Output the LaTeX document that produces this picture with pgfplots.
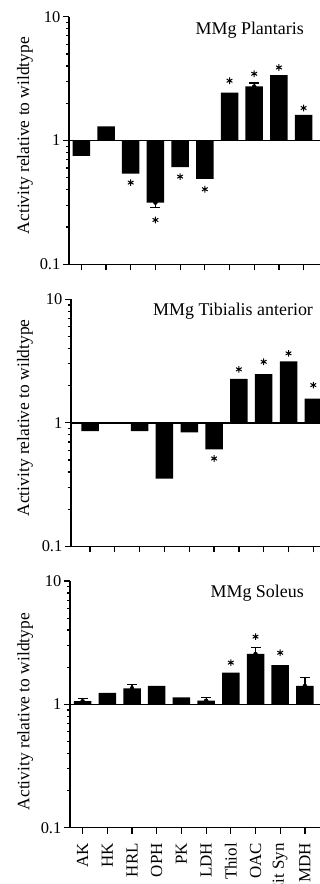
\documentclass[border=0pt]{standalone}
\usepackage{fontspec}
\setmainfont{Liberation Serif}
\usepackage{pgfplots}
\pgfplotsset{compat=1.18}

\begin{document}
\begin{tikzpicture}
\path[use as bounding box] (0,0) rectangle (320bp,884bp);
\clip (0,0) rectangle (320bp,884bp);

% Panel 1: Plantaris
\begin{axis}[at={(69bp,619.7bp)}, anchor=south west, scale only axis,
  width=251.9bp, height=247.6bp, xmin=-0.5, xmax=9.7,
  ymode=log, ymin=0.1, ymax=10, ytick={0.1,1,10}, yticklabels={0.1,1,10},
  xtick={0,1,2,3,4,5,6,7,8,9}, xticklabels={},
  axis x line*=bottom, axis y line*=left,
  tick align=outside, major tick length=6bp,
  tick style={black, line width=1.2bp},
  x axis line style={line width=1.2bp}, y axis line style={line width=2bp},
  /pgf/number format/assume math mode=true,
  yticklabel style={font=\fontsize{16.5}{16.5}\selectfont, inner sep=2.5bp},
  ylabel={Activity relative to wildtype},
  ylabel style={at={(axis description cs:-0.175,0.52)}, anchor=center, font=\fontsize{17.5}{17.5}\selectfont},
  clip=false]
\addplot[ybar, bar width=17.5bp, bar shift=0pt, fill=black, draw=none] coordinates {(0,0.75) (1,1.30) (2,0.54) (3,0.315) (4,0.61) (5,0.49) (6,2.44) (7,2.73) (8,3.38) (9,1.61)};
\addplot[black, only marks, mark=none, forget plot, error bars/y dir=both, error bars/y explicit, error bars/error bar style={black, line width=1.2bp}, error bars/error mark options={black, rotate=90, mark size=5bp, line width=1.2bp}] coordinates {(3,0.315) +- (0,0.026) (7,2.73) +- (0,0.18)};
\addplot[black, only marks, mark=asterisk, mark size=3.3bp, mark options={line width=1bp}, forget plot] coordinates {(2,0.457) (3,0.228) (4,0.511) (5,0.404) (6,3.04) (7,3.46) (8,3.89) (9,1.83)};
\draw[line width=1.6bp] (rel axis cs:0,0.5) -- (rel axis cs:1,0.5);
\end{axis}

% Panel 2: Tibialis anterior
\begin{axis}[at={(71bp,337.7bp)}, anchor=south west, scale only axis,
  width=254.7bp, height=247bp, xmin=-0.77, xmax=9.5,
  ymode=log, ymin=0.1, ymax=10, ytick={0.1,1,10}, yticklabels={0.1,1,10},
  xtick={0,1,2,3,4,5,6,7,8,9}, xticklabels={},
  axis x line*=bottom, axis y line*=left,
  tick align=outside, major tick length=6bp,
  tick style={black, line width=1.2bp},
  x axis line style={line width=1.2bp}, y axis line style={line width=2bp},
  /pgf/number format/assume math mode=true,
  yticklabel style={font=\fontsize{16.5}{16.5}\selectfont, inner sep=2.5bp},
  ylabel={Activity relative to wildtype},
  ylabel style={at={(axis description cs:-0.181,0.52)}, anchor=center, font=\fontsize{17.5}{17.5}\selectfont},
  clip=false]
\addplot[ybar, bar width=17.5bp, bar shift=0pt, fill=black, draw=none] coordinates {(0,0.855) (2,0.855) (3,0.354) (4,0.835) (5,0.608) (6,2.27) (7,2.48) (8,3.14) (9,1.57)};
\addplot[black, only marks, mark=asterisk, mark size=3.3bp, mark options={line width=1bp}, forget plot] coordinates {(5,0.514) (6,2.71) (7,3.12) (8,3.65) (9,2.02)};
\draw[line width=1.6bp] (rel axis cs:0,0.5) -- (rel axis cs:1,0.5);
\end{axis}

% Panel 3: Soleus
\begin{axis}[at={(70bp,56.3bp)}, anchor=south west, scale only axis,
  width=252.2bp, height=246.7bp, xmin=-0.51, xmax=9.7,
  ymode=log, ymin=0.1, ymax=10, ytick={0.1,1,10}, yticklabels={0.1,1,10},
  xtick={0,1,2,3,4,5,6,7,8,9},
  xticklabels={AK,HK,HRL,OPH,PK,LDH,Thiol,OAC,Cit Syn,MDH},
  xticklabel style={yshift=-6bp, rotate=90, anchor=east, font=\fontsize{17}{17}\selectfont},
  axis x line*=bottom, axis y line*=left,
  tick align=outside, major tick length=6bp,
  tick style={black, line width=1.2bp},
  x axis line style={line width=1.2bp}, y axis line style={line width=2bp},
  /pgf/number format/assume math mode=true,
  yticklabel style={font=\fontsize{16.5}{16.5}\selectfont, inner sep=2.5bp},
  ylabel={Activity relative to wildtype},
  ylabel style={at={(axis description cs:-0.178,0.47)}, anchor=center, font=\fontsize{17.5}{17.5}\selectfont},
  clip=false]
\addplot[ybar, bar width=17.5bp, bar shift=0pt, fill=black, draw=none] coordinates {(0,1.06) (1,1.24) (2,1.35) (3,1.41) (4,1.14) (5,1.07) (6,1.81) (7,2.56) (8,2.08) (9,1.41)};
\addplot[black, only marks, mark=none, forget plot, error bars/y dir=both, error bars/y explicit, error bars/error bar style={black, line width=1.2bp}, error bars/error mark options={black, rotate=90, mark size=5bp, line width=1.2bp}] coordinates {(0,1.06) +- (0,0.06) (2,1.35) +- (0,0.09) (5,1.07) +- (0,0.06) (7,2.56) +- (0,0.34) (9,1.41) +- (0,0.23)};
\addplot[black, only marks, mark=asterisk, mark size=3.3bp, mark options={line width=1bp}, forget plot] coordinates {(6,2.18) (7,3.54) (8,2.62)};
\draw[line width=1.6bp] (rel axis cs:0,0.5) -- (rel axis cs:1,0.5);
\end{axis}

\node[anchor=east, font=\fontsize{18}{18}\selectfont, inner sep=0pt] at (304bp,853.3bp) {MMg Plantaris};
\node[anchor=west, font=\fontsize{18}{18}\selectfont, inner sep=0pt] at (153bp,572.3bp) {MMg Tibialis anterior};
\node[anchor=east, font=\fontsize{18}{18}\selectfont, inner sep=0pt] at (304bp,290.7bp) {MMg Soleus};
\end{tikzpicture}
\end{document}
